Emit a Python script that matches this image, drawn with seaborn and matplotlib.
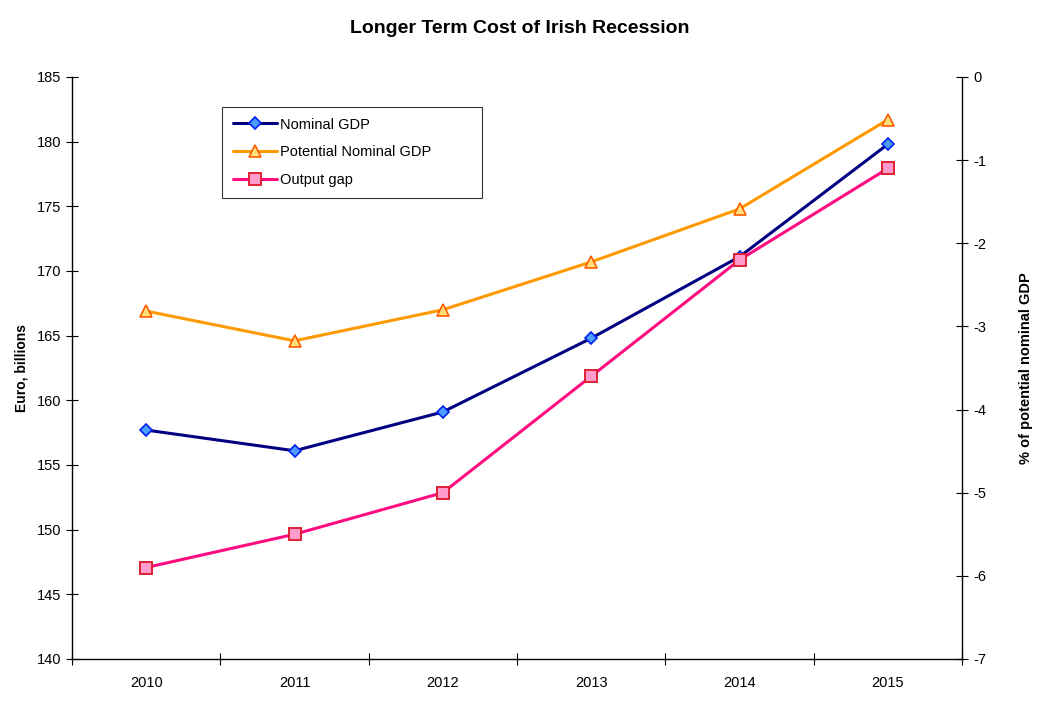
import matplotlib
matplotlib.use("Agg")
import matplotlib.pyplot as plt
import seaborn as sns
import numpy as np

sns.set_style("ticks")
plt.rcParams['font.family'] = ['Liberation Sans', 'DejaVu Sans']
plt.rcParams['axes.unicode_minus'] = False
plt.rcParams['text.color'] = 'black'
plt.rcParams['axes.labelcolor'] = 'black'
plt.rcParams['xtick.color'] = 'black'
plt.rcParams['ytick.color'] = 'black'

years = ["2010", "2011", "2012", "2013", "2014", "2015"]
nominal_gdp = [157.7, 156.1, 159.1, 164.8, 171.1, 179.8]
potential_gdp = [166.9, 164.6, 167.0, 170.7, 174.8, 181.7]
output_gap = [-5.9, -5.5, -5.0, -3.6, -2.2, -1.1]

pos = np.arange(len(years))

fig = plt.figure(figsize=(10.39, 7.03), dpi=100)
ax = fig.add_axes([0.0693, 0.0626, 0.8566, 0.8279])
ax2 = ax.twinx()

sns.lineplot(x=pos, y=nominal_gdp, ax=ax, color="#000080", lw=2.2,
             marker="D", markersize=6.5, markerfacecolor="#4d9cff",
             markeredgecolor="#0022ee", markeredgewidth=1.2, label="Nominal GDP")
sns.lineplot(x=pos, y=potential_gdp, ax=ax, color="#ff9900", lw=2.2,
             marker="^", markersize=8.5, markerfacecolor="#ffe07a",
             markeredgecolor="#ff5a00", markeredgewidth=1.2,
             label="Potential Nominal GDP")
sns.lineplot(x=pos, y=output_gap, ax=ax2, color="#ff0d80", lw=2.2,
             marker="s", markersize=8, markerfacecolor="#ff9ccc",
             markeredgecolor="#dd2233", markeredgewidth=1.4, label="Output gap")

ax.set_xlim(-0.5, 5.5)
ax.set_ylim(140, 185)
ax.set_yticks(np.arange(140, 186, 5))
ax2.set_ylim(-7, 0)
ax2.set_yticks(np.arange(-7, 1, 1))

ax.set_xticks(pos)
ax.set_xticklabels(years)
ax.set_xticks(np.arange(-0.5, 6, 1), minor=True)
ax.tick_params(axis="x", which="major", length=0, pad=12, labelsize=10.5)
ax.tick_params(axis="x", which="minor", direction="inout", length=8, width=0.8)
ax.tick_params(axis="y", direction="inout", length=8, width=0.8, labelsize=10.5, pad=4)
ax2.tick_params(axis="y", direction="inout", length=8, width=0.8, labelsize=10.5, pad=4)

for a in (ax, ax2):
    a.spines["top"].set_visible(False)
    for s in ("left", "right", "bottom"):
        a.spines[s].set_linewidth(1.0)
        a.spines[s].set_color("black")
ax.spines["right"].set_visible(False)
ax2.spines["left"].set_visible(False)
ax2.spines["bottom"].set_visible(False)

ax.set_ylabel("Euro, billions", fontsize=10, fontweight="bold", labelpad=6)
ax2.set_ylabel("% of potential nominal GDP", fontsize=10.5, fontweight="bold",
               labelpad=24)
ax.set_xlabel("")
fig.suptitle("Longer Term Cost of Irish Recession", fontsize=14,
             fontweight="bold", y=0.972)

h1, l1 = ax.get_legend_handles_labels()
h2, l2 = ax2.get_legend_handles_labels()
ax2.get_legend().remove()
ax.get_legend().remove()
# legend box spans x 222..482 px, top at 107 px in the reference
leg = ax2.legend(h1 + h2, l1 + l2, loc="upper left",
                 bbox_to_anchor=(0.1685, 0.6, 0.292, 0.349), mode="expand",
                 frameon=True, fancybox=False,
                 fontsize=10.5, handlelength=3.0, borderpad=0.75, labelspacing=0.95,
                 handletextpad=0.25, borderaxespad=0)
leg.get_frame().set_edgecolor("black")
leg.get_frame().set_linewidth(0.8)

fig.savefig("out.png", dpi=100, facecolor="white")
